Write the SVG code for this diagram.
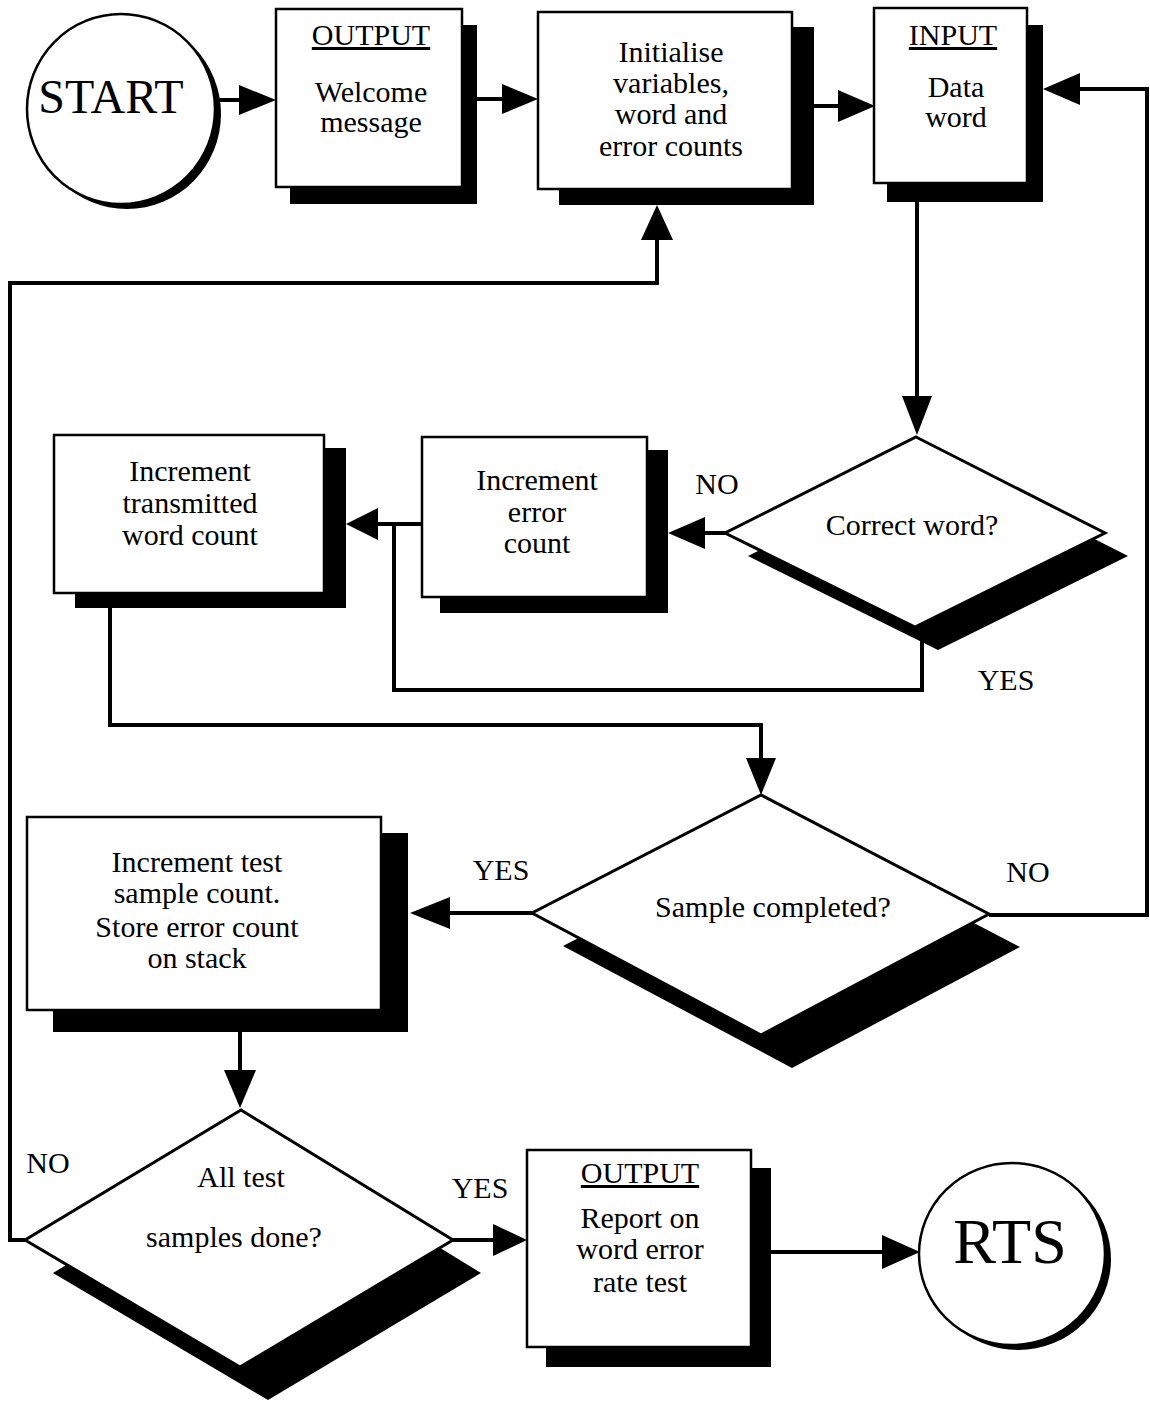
<svg xmlns="http://www.w3.org/2000/svg" width="1150" height="1403" viewBox="0 0 1150 1403">
<style>
.box{fill:#fff;stroke:#000;stroke-width:2.5}
.dm{fill:#fff;stroke:#000;stroke-width:3;stroke-linejoin:miter}
.sh{fill:#000}
.ln{fill:none;stroke:#000;stroke-width:4;stroke-linejoin:miter}
.ah{fill:#000}
.t{font-family:"Liberation Serif","Times New Roman",serif;font-size:30px;fill:#000;text-anchor:middle}
.u{text-decoration:underline}
</style>
<rect width="1150" height="1403" fill="#fff"/>
<g id="connectors">
<path class="ln" d="M216 100 H241"/>
<polygon class="ah" points="239,85 276,100 239,115"/>
<path class="ln" d="M477 99 H504"/>
<polygon class="ah" points="502,84 538,99 502,114"/>
<path class="ln" d="M814 106 H840"/>
<polygon class="ah" points="838,90 875,106 838,122"/>
<path class="ln" d="M917 202 V397"/>
<polygon class="ah" points="902,396 917,435 932,396"/>
<path class="ln" d="M725 533 H703"/>
<polygon class="ah" points="705,517 668,533 705,549"/>
<path class="ln" d="M422 524 H376"/>
<polygon class="ah" points="378,508 346,524 378,540"/>
<path class="ln" d="M922 627 V690 H394 V524"/>
<path class="ln" d="M110 607 V725 H761 V760"/>
<polygon class="ah" points="746,758 761,795 776,758"/>
<path class="ln" d="M532 913 H448"/>
<polygon class="ah" points="450,897 410,913 450,929"/>
<path class="ln" d="M989 915 H1147 V89 H1078"/>
<polygon class="ah" points="1080,73 1043,89 1080,105"/>
<path class="ln" d="M240 1032 V1072"/>
<polygon class="ah" points="224,1070 240,1108 256,1070"/>
<path class="ln" d="M25 1240 H10 V283 H657 V238"/>
<polygon class="ah" points="641,240 657,205 673,240"/>
<path class="ln" d="M453 1240 H495"/>
<polygon class="ah" points="493,1224 527,1240 493,1256"/>
<path class="ln" d="M771 1252 H884"/>
<polygon class="ah" points="882,1235 920,1252 882,1269"/>
</g>
<g id="start">
<ellipse class="sh" cx="127" cy="114" rx="94" ry="95"/>
<ellipse class="box" cx="121" cy="109" rx="94" ry="95"/>
<text class="t" x="111" y="113" style="font-size:48px">START</text>
</g>
<g id="output-welcome">
<rect class="sh" x="290" y="25" width="187" height="179"/>
<rect class="box" x="276" y="9" width="186" height="178"/>
<text class="t u" x="371" y="45">OUTPUT</text>
<text class="t" x="371" y="102">Welcome</text>
<text class="t" x="371" y="132">message</text>
</g>
<g id="initialise">
<rect class="sh" x="559" y="27" width="255" height="178"/>
<rect class="box" x="538" y="12" width="254" height="177"/>
<text class="t" x="671" y="62">Initialise</text>
<text class="t" x="671" y="93">variables,</text>
<text class="t" x="671" y="124">word and</text>
<text class="t" x="671" y="156">error counts</text>
</g>
<g id="input-data">
<rect class="sh" x="887" y="25" width="156" height="177"/>
<rect class="box" x="874" y="8" width="153" height="175"/>
<text class="t u" x="953" y="45">INPUT</text>
<text class="t" x="956" y="97">Data</text>
<text class="t" x="956" y="127">word</text>
</g>
<g id="correct-word">
<polygon class="sh" points="939,460 1128,556 938,650 748,556"/>
<polygon class="dm" points="916,437 1105,533 915,627 725,533"/>
<text class="t" x="912" y="535">Correct word?</text>
</g>
<g id="increment-error">
<rect class="sh" x="440" y="450" width="228" height="163"/>
<rect class="box" x="422" y="437" width="225" height="160"/>
<text class="t" x="537" y="490">Increment</text>
<text class="t" x="537" y="522">error</text>
<text class="t" x="537" y="553">count</text>
</g>
<g id="increment-transmitted">
<rect class="sh" x="75" y="448" width="271" height="160"/>
<rect class="box" x="54" y="435" width="270" height="158"/>
<text class="t" x="190" y="481">Increment</text>
<text class="t" x="190" y="513">transmitted</text>
<text class="t" x="190" y="545">word count</text>
</g>
<g id="sample-completed">
<polygon class="sh" points="792,828 1020,947 792,1068 563,946"/>
<polygon class="dm" points="761,795 989,914 761,1035 532,913"/>
<text class="t" x="773" y="917">Sample completed?</text>
</g>
<g id="increment-test">
<rect class="sh" x="53" y="833" width="355" height="199"/>
<rect class="box" x="27" y="817" width="354" height="193"/>
<text class="t" x="197" y="872">Increment test</text>
<text class="t" x="197" y="903">sample count.</text>
<text class="t" x="197" y="937">Store error count</text>
<text class="t" x="197" y="968">on stack</text>
</g>
<g id="all-test">
<polygon class="sh" points="269,1143 481,1273 268,1400 53,1273"/>
<polygon class="dm" points="241,1110 453,1240 240,1367 25,1240"/>
<text class="t" x="241" y="1187">All test</text>
<text class="t" x="234" y="1247">samples done?</text>
</g>
<g id="output-report">
<rect class="sh" x="546" y="1168" width="225" height="199"/>
<rect class="box" x="527" y="1150" width="224" height="197"/>
<text class="t u" x="640" y="1183">OUTPUT</text>
<text class="t" x="640" y="1228">Report on</text>
<text class="t" x="640" y="1259">word error</text>
<text class="t" x="640" y="1292">rate test</text>
</g>
<g id="rts">
<ellipse class="sh" cx="1018" cy="1259" rx="93" ry="91"/>
<ellipse class="box" cx="1012" cy="1254" rx="93" ry="91"/>
<text class="t" x="1010" y="1263" style="font-size:64px">RTS</text>
</g>
<g id="labels">
<text class="t" x="717" y="494">NO</text>
<text class="t" x="1006" y="690">YES</text>
<text class="t" x="501" y="880">YES</text>
<text class="t" x="1028" y="882">NO</text>
<text class="t" x="48" y="1173">NO</text>
<text class="t" x="480" y="1198">YES</text>
</g>
</svg>
